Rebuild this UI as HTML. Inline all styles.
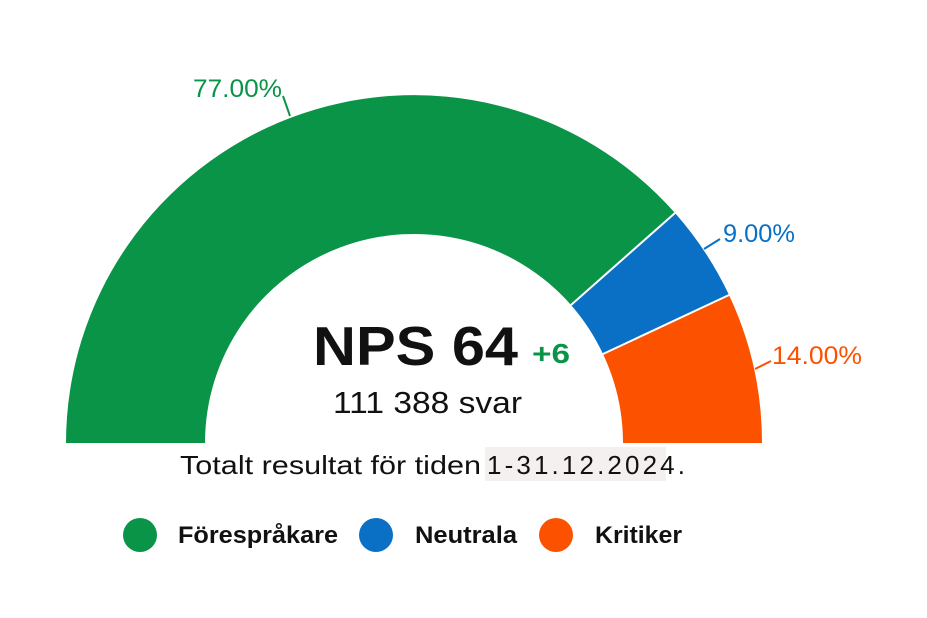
<!DOCTYPE html>
<html><head><meta charset="utf-8"><style>
html,body{margin:0;padding:0;background:#fff;}
svg{display:block;font-family:"Liberation Sans",sans-serif;}
</style></head><body>
<svg width="927" height="618" viewBox="0 0 927 618">
<rect x="485" y="447" width="181" height="34" fill="#f3f0ef"/>
<path d="M66 443 A348 348 0 0 1 675 213 L571 305 A209 209 0 0 0 205 443 Z" fill="#0a9447"/>
<path d="M675 213 A348 348 0 0 1 729 295 L603 354 A209 209 0 0 0 571 305 Z" fill="#0a70c6"/>
<path d="M729 295 A348 348 0 0 1 762 443 L623 443 A209 209 0 0 0 603 354 Z" fill="#fc5200"/>
<line x1="675" y1="213" x2="571" y2="305" stroke="#fff" stroke-width="2"/>
<line x1="729" y1="295" x2="603" y2="354" stroke="#fff" stroke-width="2"/>
<polyline points="283,96 290,116" stroke="#0a9447" stroke-width="2" fill="none"/>
<polyline points="704,249 720,239" stroke="#0a70c6" stroke-width="2" fill="none"/>
<polyline points="755,369 771,361" stroke="#fc5200" stroke-width="2" fill="none"/>
<text x="193" y="97" font-size="25" fill="#0a9447" textLength="89" lengthAdjust="spacingAndGlyphs">77.00%</text>
<text x="723" y="242" font-size="25" fill="#0a70c6" textLength="72" lengthAdjust="spacingAndGlyphs">9.00%</text>
<text x="772" y="364" font-size="25" fill="#fc5200" textLength="90" lengthAdjust="spacingAndGlyphs">14.00%</text>
<text x="313" y="365" font-size="55" font-weight="bold" fill="#111" textLength="205" lengthAdjust="spacingAndGlyphs">NPS 64</text>
<text x="532" y="363" font-size="28" font-weight="bold" fill="#0a9447" textLength="38" lengthAdjust="spacingAndGlyphs">+6</text>
<text x="333" y="413" font-size="31" fill="#111" textLength="189" lengthAdjust="spacingAndGlyphs">111 388 svar</text>
<text x="180" y="474" font-size="26" fill="#111" textLength="301" lengthAdjust="spacingAndGlyphs">Totalt resultat för tiden</text>
<text x="487" y="474" font-size="26" fill="#111" textLength="198" lengthAdjust="spacing">1-31.12.2024.</text>
<circle cx="140" cy="535" r="17" fill="#0a9447"/>
<circle cx="376" cy="535" r="17" fill="#0a70c6"/>
<circle cx="556" cy="535" r="17" fill="#fc5200"/>
<g font-size="24" font-weight="bold" fill="#111">
<text x="178" y="543" textLength="160" lengthAdjust="spacingAndGlyphs">Förespråkare</text>
<text x="415" y="543" textLength="102" lengthAdjust="spacingAndGlyphs">Neutrala</text>
<text x="595" y="543" textLength="87" lengthAdjust="spacingAndGlyphs">Kritiker</text>
</g>
</svg>
</body></html>
